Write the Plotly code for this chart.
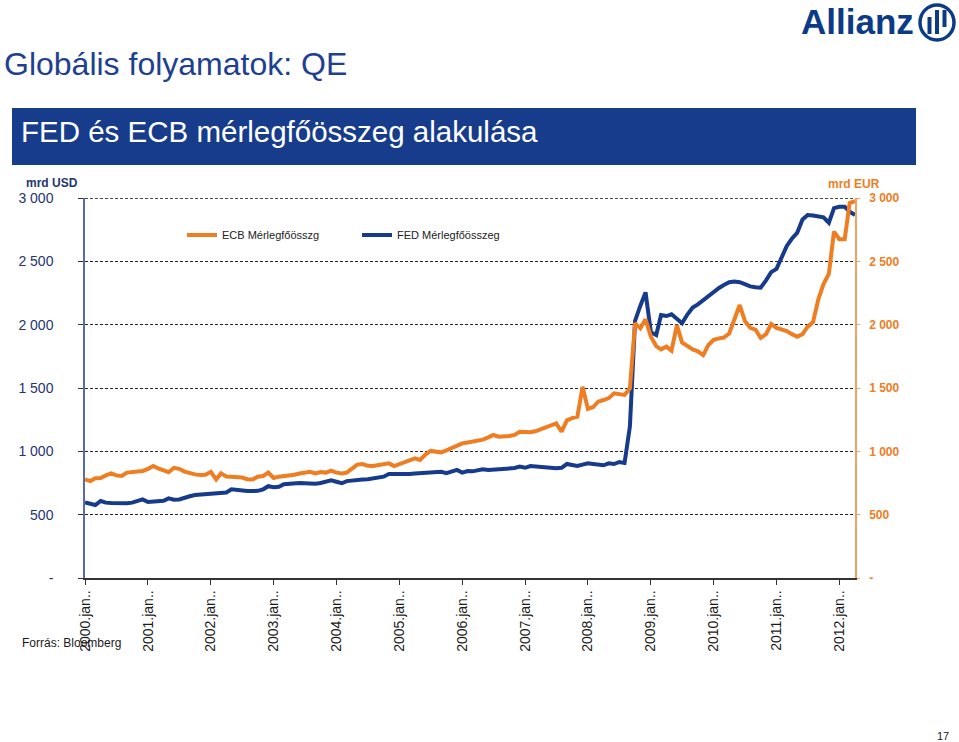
import pandas as pd
import plotly.graph_objects as go

# ---------------- data ----------------
months = pd.date_range("2000-01-01", periods=148, freq="MS")

fed = [597, 585, 576, 608, 595, 592, 590, 588, 590, 595, 610, 621,
       600, 603, 605, 610, 629, 618, 620, 629, 645, 655, 658, 662,
       665, 666, 668, 675, 700, 695, 687, 686, 686, 688, 700, 725,
       716, 720, 740, 745, 748, 750, 748, 745, 745, 750, 760, 772,
       760, 748, 765, 772, 775, 778, 780, 787, 792, 800, 821, 820,
       818, 818, 822, 825, 828, 832, 833, 838, 839, 828, 840, 853,
       832, 845, 842, 850, 858, 852, 855, 858, 860, 862, 868, 879,
       870, 884, 880, 879, 875, 866, 866, 870, 900, 892, 884, 895,
       905, 900, 892, 890, 905, 900, 916, 908, 1195, 2030, 2150, 2255,
       1940, 1918, 2076, 2068, 2082, 2045, 2011, 2080, 2135, 2160, 2195, 2226,
       2255, 2290, 2313, 2335, 2340, 2335, 2320, 2302, 2296, 2292, 2350, 2415,
       2440, 2530, 2620, 2680, 2725, 2830, 2866, 2862, 2855, 2848, 2805, 2920,
       2931, 2931, 2892, 2866]

ecb = [779, 765, 787, 790, 810, 826, 810, 805, 832, 835, 835, 845,
       862, 884, 865, 853, 835, 870, 862, 840, 826, 818, 813, 815,
       838, 779, 826, 802, 800, 795, 793, 780, 778, 800, 805, 832,
       790, 800, 805, 805, 815, 825, 832, 839, 825, 837, 832, 847,
       832, 826, 832, 860, 895, 900, 886, 885, 890, 898, 905, 884,
       900, 920, 935, 945, 932, 975, 1003, 1000, 992, 1008, 1025, 1045,
       1063, 1070, 1076, 1084, 1092, 1110, 1129, 1116, 1115, 1121, 1130, 1155,
       1153, 1150, 1158, 1175, 1190, 1208, 1221, 1155, 1245, 1262, 1274, 1510,
       1335, 1350, 1392, 1405, 1420, 1458, 1450, 1445, 1497, 2011, 1971, 2042,
       1905, 1830, 1805, 1826, 1795, 1997, 1860, 1830, 1805, 1790, 1760, 1840,
       1880, 1892, 1898, 1930, 2040, 2155, 2030, 1975, 1960, 1895, 1925, 2005,
       1975, 1965, 1950, 1925, 1905, 1925, 1984, 2020, 2200, 2320, 2400, 2735,
       2675, 2674, 2960, 2975]

years = list(range(2000, 2013))
x_tickvals = [f"{y}-01-01" for y in years]
x_ticktext = [f"{y}.jan.." for y in years]

y_tickvals = [0, 500, 1000, 1500, 2000, 2500, 3000]
y_ticktext = ["-", "500", "1 000", "1 500", "2 000", "2 500", "3 000"]
Y_MAX = 3000

# ---------------- styling ----------------
W, H = 959, 742
L, R, T, B = 85, 855, 198, 578
ORANGE = "#EF7D22"
BLUE = "#163B8C"
FONT = "Arial, Liberation Sans, sans-serif"


def px(x):
    return (x - L) / (R - L)


def py(y):
    return (B - y) / (B - T)


fig = go.Figure()
fig.add_trace(go.Scatter(x=months, y=ecb, name="ECB Mérlegfőösszg", mode="lines",
                         line=dict(color=ORANGE, width=4), yaxis="y2", legend="legend"))
fig.add_trace(go.Scatter(x=months, y=fed, name="FED Mérlegfőösszeg", mode="lines",
                         line=dict(color=BLUE, width=4), yaxis="y", legend="legend2"))

fig.update_layout(
    width=W, height=H,
    margin=dict(l=L, r=W - R, t=T, b=H - B, pad=0),
    paper_bgcolor="white", plot_bgcolor="white",
    font=dict(family=FONT),
    xaxis=dict(
        range=["2000-01-01", "2012-04-01"],
        tickmode="array", tickvals=x_tickvals, ticktext=x_ticktext,
        tickangle=-90, tickfont=dict(size=14, color="#1A1A1A"),
        showgrid=False, zeroline=False,
        showline=True, linecolor="#333333", linewidth=1.5,
        ticks="outside", ticklen=5, tickcolor="#333333",
    ),
    yaxis=dict(
        range=[0, Y_MAX], tickmode="array", tickvals=y_tickvals, ticktext=y_ticktext,
        tickfont=dict(size=14, color="#1F3570"),
        showgrid=True, gridcolor="#222222", gridwidth=1, griddash="3px,2px",
        zeroline=False, showline=True, linecolor="#5B6BA8", linewidth=1.5,
        ticks="outside", ticklen=5, tickcolor="#333333",
        ticklabelstandoff=22,
    ),
    yaxis2=dict(
        range=[0, Y_MAX], tickmode="array", tickvals=y_tickvals, ticktext=y_ticktext,
        tickfont=dict(size=12, color=ORANGE, weight="bold"),
        overlaying="y", side="right", showgrid=False, zeroline=False,
        showline=True, linecolor="#F0A060", linewidth=1.5,
        ticks="outside", ticklen=3, tickcolor="#F0A060", ticklabelstandoff=7,
    ),
    legend=dict(x=px(182), y=py(235), xanchor="left", yanchor="middle",
                orientation="h", bgcolor="rgba(0,0,0,0)",
                font=dict(size=11, color="#222222")),
    legend2=dict(x=px(357), y=py(235), xanchor="left", yanchor="middle",
                 orientation="h", bgcolor="rgba(0,0,0,0)",
                 font=dict(size=11, color="#222222")),
    showlegend=True,
)

shapes = [
    # top gridline (edge of plot area)
    dict(type="line", xref="paper", yref="y", x0=0, x1=1, y0=Y_MAX, y1=Y_MAX,
         line=dict(color="#111111", width=1.6, dash="3px,2px")),
    # banner
    dict(type="rect", xref="paper", yref="paper", x0=px(12), x1=px(916), y0=py(108), y1=py(165),
         fillcolor="#173C8C", line=dict(width=0), layer="below"),
    # Allianz emblem
    dict(type="circle", xref="paper", yref="paper", x0=px(920), x1=px(954), y0=py(5), y1=py(40),
         line=dict(color="#0B3B87", width=3.5), fillcolor="white"),
]
for bx0, by0, by1 in [(927.5, 17, 34), (935, 10, 34), (942.5, 10, 27)]:
    shapes.append(dict(type="rect", xref="paper", yref="paper", x0=px(bx0), x1=px(bx0 + 4),
                       y0=py(by1), y1=py(by0), fillcolor="#0B3B87", line=dict(width=0)))
fig.update_layout(shapes=shapes)

ann = [
    dict(text="Globális folyamatok: QE", x=px(2), y=py(64), xanchor="left", yanchor="middle",
         font=dict(size=32, color="#1E4090")),
    dict(text="FED és ECB mérlegfőösszeg alakulása", x=px(19), y=py(131), xanchor="left",
         yanchor="middle", font=dict(size=29.5, color="white")),
    dict(text="<b>Allianz</b>", x=px(916), y=py(22), xanchor="right", yanchor="middle",
         font=dict(size=35, color="#0B3B87")),
    dict(text="<b>mrd USD</b>", x=px(80), y=py(183), xanchor="right", yanchor="middle",
         font=dict(size=12, color="#1F3570")),
    dict(text="<b>mrd EUR</b>", x=px(882), y=py(184), xanchor="right", yanchor="middle",
         font=dict(size=12, color=ORANGE)),
    dict(text="Forrás: Bloomberg", x=px(20), y=py(643), xanchor="left", yanchor="middle",
         font=dict(size=12, color="#1A1A1A")),
    dict(text="17", x=px(951), y=py(736), xanchor="right", yanchor="middle",
         font=dict(size=11, color="#1A1A1A")),
]
for a in ann:
    a.update(xref="paper", yref="paper", showarrow=False)
fig.update_layout(annotations=ann)

fig.write_html("out.html")
